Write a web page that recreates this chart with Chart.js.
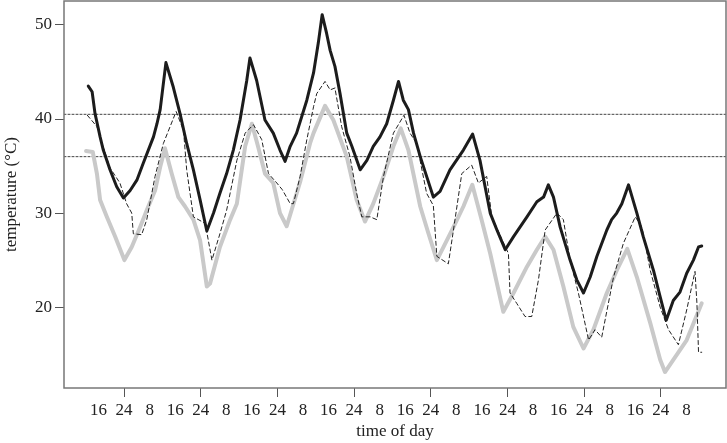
<!DOCTYPE html>
<html>
<head>
<meta charset="utf-8">
<script src="https://cdn.jsdelivr.net/npm/chart.js@4"></script>
<style>
  html, body { margin: 0; padding: 0; background: #fff; }
  #wrap { width: 727px; height: 443px; }
</style>
</head>
<body>
<div id="wrap"><canvas id="myChart" width="727" height="443"></canvas></div>
<script>
// hours since first midnight
var blackTime = [-11.2,-10.0,-9.1,-8.2,-7.5,-6.5,-4.4,-2.3,-0.2,1.9,4.0,6.0,9.2,10.3,11.3,13.1,15.4,17.5,19.6,21.7,23.8,25.9,28.0,30.0,32.1,34.2,36.3,38.4,39.4,41.5,44.1,46.7,48.8,50.4,52.0,54.0,57.2,59.3,60.8,62.0,63.4,64.5,66.0,67.6,69.7,71.3,73.9,76.0,78.0,80.1,82.2,84.3,85.9,87.4,89.0,90.6,92.7,94.7,96.8,98.9,102.0,106.2,109.1,111.4,114.6,116.7,119.3,121.9,126.1,129.2,131.3,132.8,134.4,136.5,139.6,141.7,143.8,145.9,148.0,151.1,152.6,154.2,155.8,157.9,160.5,162.5,165.7,167.8,169.7,171.9,174.0,176.1,178.2,179.8,180.8];
var blackTemp = [43.5,42.9,40.6,39.2,38.1,36.7,34.6,32.8,31.6,32.4,33.5,35.3,38.1,39.5,41.0,46.0,43.4,40.6,37.4,34.6,31.4,28.1,30.0,32.1,34.2,36.7,39.9,44.1,46.5,44.1,39.9,38.5,36.7,35.5,37.1,38.5,42.0,44.9,48.1,51.1,49.1,47.3,45.6,42.7,38.5,37.1,34.6,35.6,37.1,38.1,39.5,42.0,44.0,42.0,41.0,38.5,36.0,33.9,31.7,32.3,34.6,36.7,38.4,35.6,30.0,28.2,26.1,27.5,29.6,31.2,31.7,33.0,31.7,28.5,25.0,22.9,21.5,23.2,25.4,28.2,29.3,30.0,31.0,33.0,30.0,27.5,23.9,21.1,18.6,20.7,21.6,23.6,25.0,26.4,26.5];

var grayTime = [-11.9,-9.8,-8.5,-7.5,-5.4,-2.8,0.1,2.4,5.0,7.1,9.7,11.3,12.8,14.9,17.0,19.1,21.7,23.8,25.9,26.9,30.0,33.2,35.3,37.9,40.0,42.0,44.1,46.7,48.8,50.9,55.1,58.2,59.3,62.9,65.5,69.7,72.8,75.4,78.0,81.2,84.3,86.6,89.0,92.7,95.3,97.9,100.0,103.1,106.2,109.0,111.9,114.6,118.7,121.9,126.1,129.2,131.8,134.4,137.5,140.6,143.8,146.9,151.1,154.2,157.5,160.5,164.7,167.8,169.3,171.9,176.1,180.8];
var grayTemp = [36.6,36.5,34.2,31.4,29.6,27.5,25.0,26.4,28.5,30.3,32.4,34.9,36.9,34.2,31.7,30.7,29.3,27.1,22.2,22.5,26.4,29.3,31.0,37.1,39.5,37.0,34.2,33.2,30.0,28.6,33.3,37.4,38.5,41.4,39.9,36.0,31.4,29.1,31.0,33.9,37.1,39.0,36.7,30.7,27.8,25.0,26.4,28.5,30.7,33.0,29.3,25.7,19.5,21.5,24.3,26.1,27.5,26.1,22.2,17.9,15.6,17.6,21.5,23.9,26.2,23.2,18.3,14.4,13.1,14.4,16.5,20.4];

var dashTime = [-11.5,-8.5,-7.5,-6.5,-4.4,-1.3,0.8,2.4,2.9,5.5,7.1,9.7,12.3,16.3,18.6,19.6,21.7,25.4,27.5,30.0,32.1,35.3,37.9,40.5,43.1,45.2,47.8,49.5,52.0,53.0,55.1,57.2,59.3,60.3,62.9,64.5,66.0,68.1,70.7,72.8,74.4,77.0,79.1,81.2,84.3,87.6,89.5,91.6,94.7,96.8,97.9,101.5,103.1,105.7,108.8,110.9,113.5,115.1,120.3,120.8,122.9,125.5,127.6,129.7,131.8,135.5,137.5,139.6,142.2,145.4,147.4,149.5,153.2,156.3,160.0,162.1,164.7,167.8,170.4,173.5,176.1,178.7,179.3,179.8,180.8];
var dashTemp = [40.4,39.2,38.1,37.0,34.8,33.2,31.0,30.0,27.8,27.7,29.3,33.9,37.4,40.8,38.8,34.6,29.6,28.9,25.0,27.8,30.3,35.6,38.5,39.4,37.8,34.2,33.2,32.5,31.0,31.0,33.9,37.8,41.3,42.7,44.0,43.1,43.3,39.2,36.0,32.1,29.6,29.6,29.3,33.9,38.5,40.4,38.5,37.4,32.1,30.8,25.4,24.6,28.2,34.2,35.1,33.2,33.9,29.6,25.7,21.5,20.4,19.0,19.0,22.9,28.2,30.0,29.3,25.0,21.5,16.5,17.6,16.8,23.2,26.8,29.6,28.5,23.9,20.0,17.6,16.0,19.7,23.8,20.4,15.2,15.2];

var thresholds = [40.5, 36];
var xTickValues = [-8,0,8,16,24,32,40,48,56,64,72,80,88,96,104,112,120,128,136,144,152,160,168,176];
var xTickLabels = ['16','24','8','16','24','8','16','24','8','16','24','8','16','24','8','16','24','8','16','24','8','16','24','8'];
var yTickValues = [20, 30, 40, 50];

var xMin = -18.8, xMax = 188.4;

function pairs(xs, ys){
  return xs.map(function(x, i){ return {x: x, y: ys[i]}; });
}

var datasets = [
  { data: pairs(blackTime, blackTemp), borderColor: '#1c1c1c', borderWidth: 3, order: 0 },
  { data: pairs(dashTime, dashTemp), borderColor: '#222', borderWidth: 1, borderDash: [4, 3], order: 1 },
  { data: pairs(grayTime, grayTemp), borderColor: '#c9c9c9', borderWidth: 4, order: 2 }
];
thresholds.forEach(function(v){
  datasets.push({ data: [{x: xMin, y: v}, {x: xMax, y: v}], borderColor: '#444', borderWidth: 1, borderDash: [2, 2], order: 3 });
});

// grey box round the plot
var frame = {
  id: 'frame',
  afterDatasetsDraw: function(chart){
    var a = chart.chartArea, ctx = chart.ctx;
    ctx.save();
    ctx.strokeStyle = '#777';
    ctx.lineWidth = 1.5;
    ctx.strokeRect(a.left, a.top, a.right - a.left, a.bottom - a.top);
    ctx.restore();
  }
};

var serif = { family: 'Liberation Serif', size: 17 };

new Chart("myChart", {
  type: "line",
  data: { datasets: datasets },
  options: {
    responsive: false,
    animation: false,
    layout: { padding: { top: 1, right: 1, left: 0, bottom: 0 } },
    elements: { point: { radius: 0 }, line: { tension: 0, borderCapStyle: 'round', borderJoinStyle: 'round' } },
    plugins: { legend: { display: false }, tooltip: { enabled: false } },
    scales: {
      x: {
        type: 'linear', min: xMin, max: xMax,
        afterFit: function(s){ s.height = 55; s.paddingLeft = 0; s.paddingRight = 0; },
        afterBuildTicks: function(s){ s.ticks = xTickValues.map(function(v){ return {value: v}; }); },
        border: { display: false },
        grid: {
          drawOnChartArea: false, drawTicks: true, tickLength: 9, lineWidth: 1,
          color: function(c){ return c.tick && c.tick.value % 24 === 0 ? '#555' : 'rgba(0,0,0,0)'; }
        },
        ticks: {
          autoSkip: false, maxRotation: 0, padding: 3, color: '#222', font: serif,
          callback: function(v){ return xTickLabels[xTickValues.indexOf(v)]; }
        },
        title: { display: true, text: 'time of day', color: '#222', font: serif, padding: { top: 0, bottom: 1 } }
      },
      y: {
        min: 11.4, max: 52.55,
        afterFit: function(s){ s.width = 64; s.paddingTop = 0; s.paddingBottom = 0; },
        afterBuildTicks: function(s){ s.ticks = yTickValues.map(function(v){ return {value: v}; }); },
        border: { display: false },
        grid: { drawOnChartArea: false, drawTicks: true, tickLength: 9, color: '#555', lineWidth: 1 },
        ticks: { padding: 3, color: '#222', font: serif },
        title: { display: true, text: 'temperature (°C)', color: '#222', font: serif, padding: { top: 1, bottom: 0 } }
      }
    }
  },
  plugins: [frame]
});
</script>
</body>
</html>
